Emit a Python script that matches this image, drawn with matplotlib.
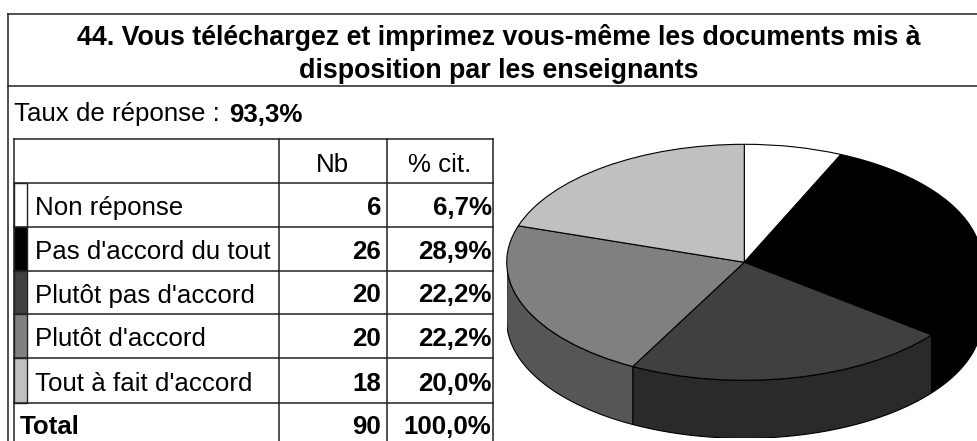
# -*- coding:utf-8 -*-
import numpy as np
import matplotlib
matplotlib.use("Agg")
import matplotlib.pyplot as plt

plt.rcParams['font.family'] = ['Liberation Sans', 'DejaVu Sans']

# table content
categories = ["Non réponse", "Pas d'accord du tout", "Plutôt pas d'accord",
              "Plutôt d'accord", "Tout à fait d'accord"]
counts = [6, 26, 20, 20, 18]
percents = ["6,7%", "28,9%", "22,2%", "22,2%", "20,0%"]
total_count = 90
total_percent = "100,0%"
colors = ["#ffffff", "#000000", "#404040", "#808080", "#c0c0c0"]
side_colors = ["#ffffff", "#000000", "#2a2a2a", "#565656", "#868686"]

W, H = 977, 441
FS = 18.6
fig = plt.figure(figsize=(W / 100, H / 100), dpi=100)

# background axes in pixel coordinates for frame + table
ax = fig.add_axes([0, 0, 1, 1])
ax.set_xlim(0, W)
ax.set_ylim(H, 0)
ax.axis("off")

# outer frame
ax.plot([7.5, 7.5], [14, H], color="#222222", lw=1.1)
ax.plot([7.5, W], [14, 14], color="#222222", lw=1.1)
ax.plot([7.5, W], [86, 86], color="#222222", lw=1.1)

ax.text(499, 45, "44. Vous téléchargez et imprimez vous-même les documents mis à",
        ha="center", va="baseline", fontsize=19.3, fontweight="bold")
ax.text(499, 78, "disposition par les enseignants",
        ha="center", va="baseline", fontsize=19.3, fontweight="bold")
t = ax.text(14, 121.5, "Taux de réponse : ", ha="left", va="baseline", fontsize=FS)
ax.annotate("93,3%", xy=(1, 121.5), xycoords=(t, "data"), xytext=(1.5, 0),
            textcoords="offset points", va="baseline", ha="left",
            fontsize=FS, fontweight="bold")

# table grid
col_x = [13.5, 278.5, 387, 493]
row_y = [139, 182.5, 226.5, 270.5, 314, 358, 402.5, 446]
for x in col_x:
    ax.plot([x, x], [row_y[0], H], color="#222222", lw=1.1)
for y in row_y[:-1]:
    ax.plot([col_x[0], col_x[-1]], [y, y], color="#222222", lw=1.1)

ax.text(332.5, 171.5, "Nb", ha="center", va="baseline", fontsize=FS)
ax.text(440, 171.5, "% cit.", ha="center", va="baseline", fontsize=FS)

for i, cat in enumerate(categories):
    y0, y1 = row_y[i + 1], row_y[i + 2]
    yb = y1 - 11.5
    ax.fill([13.5, 26.5, 26.5, 13.5], [y0, y0, y1, y1], facecolor=colors[i],
            edgecolor="#222222", lw=1.0)
    ax.text(35, yb, cat, ha="left", va="baseline", fontsize=FS)
    ax.text(381, yb, str(counts[i]), ha="right", va="baseline", fontsize=FS, fontweight="bold")
    ax.text(491.5, yb, percents[i], ha="right", va="baseline", fontsize=FS, fontweight="bold")

yb = 434
ax.text(20, yb, "Total", ha="left", va="baseline", fontsize=FS, fontweight="bold")
ax.text(381, yb, str(total_count), ha="right", va="baseline", fontsize=FS, fontweight="bold")
ax.text(491.5, yb, total_percent, ha="right", va="baseline", fontsize=FS, fontweight="bold")

# pie: unit circle stretched to the ellipse, depth added below it
cx, cy, rx, ry, depth = 744.3, 262.3, 237.6, 118, 58
pie_ax = fig.add_axes([(cx - rx) / W, 1 - (cy + ry + depth) / H,
                       2 * rx / W, (2 * ry + depth) / H])
pie_ax.patch.set_alpha(0)
d = depth / ry

# side wall, from the slice angles (clockwise from the top)
fracs = np.array(counts) / sum(counts)
edges = np.concatenate([[0], np.cumsum(fracs)]) * 2 * np.pi
for i in range(len(counts)):
    a0 = max(edges[i], np.pi / 2)
    a1 = min(edges[i + 1], 3 * np.pi / 2)
    if a1 <= a0:
        continue
    a = np.linspace(a0, a1, 80)
    xs, ys = np.sin(a), np.cos(a)
    pie_ax.fill(np.r_[xs, xs[::-1]], np.r_[ys, ys[::-1] - d],
                facecolor=side_colors[i], edgecolor="black", lw=0.8, zorder=1)

pie_ax.pie(counts, colors=colors, startangle=90, counterclock=False, radius=1,
           wedgeprops={"edgecolor": "black", "linewidth": 0.8, "zorder": 2})
pie_ax.set_aspect("auto")
pie_ax.set_xlim(-1, 1)
pie_ax.set_ylim(-1 - d, 1)
pie_ax.axis("off")

fig.savefig("out.png", dpi=100)
